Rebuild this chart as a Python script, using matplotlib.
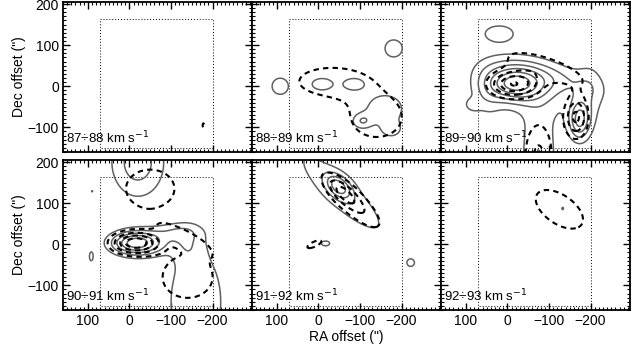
import numpy as np
import matplotlib.pyplot as plt
from matplotlib.patches import Rectangle
from matplotlib.ticker import MultipleLocator

plt.rcParams['font.family'] = ['Liberation Sans', 'DejaVu Sans']

# velocity channels
channels = ['87÷88', '88÷89', '89÷90', '90÷91', '91÷92', '92÷93']

# emission components per channel: (ra, dec, sig_ra, sig_dec, angle, amp)
solid_comps = [
    [],
    [(92, 0, 18, 18, 0, 0.45), (-181, 92, 19, 19, 0, 0.45), (-9, 5, 21, 12, 0, 0.48),
     (-85, 5, 21, 12, 0, 0.48), (-160, -55, 35, 28, 0, 0.48), (-105, -85, 18, 14, 0, 0.45),
     (-175, -105, 18, 14, 0, 0.4)],
    [(-18, 3, 45, 26, 0, 1.2), (-40, 15, 70, 40, 10, 0.3), (-173, -82, 18, 33, 0, 1.0),
     (-120, 20, 80, 25, 15, 0.3), (-75, -170, 30, 70, 0, 0.5), (-80, -30, 60, 50, 0, 0.25),
     (50, -20, 28, 45, 0, 0.3), (10, 40, 50, 25, 0, 0.25), (85, -45, 13, 11, 0, 0.3),
     (20, 128, 30, 17, 0, 0.45), (-200, -20, 25, 60, 0, 0.3)],
    [(-18, 3, 42, 20, 0, 1.45), (-160, -140, 55, 110, 0, 0.45), (-110, 30, 40, 15, 0, 0.35),
     (-140, 0, 25, 30, 0, 0.3), (-20, 200, 45, 60, 0, 0.65), (92, -30, 5, 12, 0, 0.35),
     (90, 129, 2, 2, 0, 0.3)],
    [(-49, 141, 24, 16, 43, 0.8), (-55, 125, 110, 30, 43, 0.45), (-17, 2, 12, 7, 0, 0.35),
     (-222, -45, 8, 8, 0, 0.4)],
    [(-133, 87, 4, 6, 0, 0.28)],
]
dashed_comps = [
    [(-178, -95, 3, 8, 0, 0.3)],
    [(-30, 12, 78, 33, 0, 0.4), (-140, -75, 62, 50, 0, 0.4)],
    [(-15, 5, 40, 22, 0, 1.0), (-90, 45, 90, 25, 18, 0.4), (-165, -75, 20, 35, 0, 0.8),
     (-75, -170, 25, 60, 0, 0.55)],
    [(-15, 3, 38, 18, 0, 1.2), (-130, 15, 50, 16, 27, 0.4), (-50, 135, 60, 48, 0, 0.4),
     (-140, -80, 62, 52, 0, 0.4)],
    [(-80, 105, 70, 22, 43, 0.55), (-60, 125, 30, 14, 43, 0.4), (10, 0, 30, 10, -25, 0.3)],
    [(-125, 85, 67, 36, 35, 0.4)],
]
levels = [0.25, 0.5, 0.75, 1.0, 1.25, 1.5]

box_ra = [70, -200]
box_dec = [-150, 163]

ra = np.linspace(-300, 165, 320)
dec = np.linspace(-165, 210, 280)
RA, DEC = np.meshgrid(ra, dec)


def field(comps):
    z = np.zeros_like(RA)
    for x0, y0, sx, sy, ang, amp in comps:
        t = np.deg2rad(ang)
        dx = RA - x0
        dy = DEC - y0
        u = dx * np.cos(t) + dy * np.sin(t)
        v = -dx * np.sin(t) + dy * np.cos(t)
        z += amp * np.exp(-0.5 * ((u / sx) ** 2 + (v / sy) ** 2))
    return z


fig = plt.figure(figsize=(6.32, 3.5), dpi=100)
w, h = 189 / 632, 150 / 350
lefts = [63 / 632, 252 / 632, 441 / 632]
bottoms = [1 - 152 / 350, 1 - 310 / 350]

for i in range(6):
    row, col = divmod(i, 3)
    ax = fig.add_axes([lefts[col], bottoms[row], w, h])
    ax.contour(RA, DEC, field(solid_comps[i]), levels=levels, colors='#606060',
               linewidths=1.1, linestyles='solid')
    ax.contour(RA, DEC, field(dashed_comps[i]), levels=levels, colors='black',
               linewidths=1.5, linestyles=[(0, (2.6, 2))])
    ax.add_patch(Rectangle((box_ra[1], box_dec[0]), box_ra[0] - box_ra[1], box_dec[1] - box_dec[0],
                           fill=False, ls=(0, (1, 2)), lw=0.7, color='black'))
    ax.set_xlim(160, -295)
    ax.set_ylim(-160, 205)
    ax.xaxis.set_major_locator(MultipleLocator(100))
    ax.yaxis.set_major_locator(MultipleLocator(100))
    ax.xaxis.set_minor_locator(MultipleLocator(10))
    ax.yaxis.set_minor_locator(MultipleLocator(10))
    ax.tick_params(which='both', direction='in', top=True, right=True, labelsize=10, pad=3)
    ax.tick_params(which='major', length=5, width=1)
    ax.tick_params(which='minor', length=2.5, width=0.8)
    for s in ax.spines.values():
        s.set_linewidth(1.3)
    if col != 0:
        ax.set_yticklabels([])
    else:
        ax.set_ylabel('Dec offset (")', fontsize=10, labelpad=1)
    if row == 0:
        ax.set_xticklabels([])
    if i == 4:
        ax.set_xlabel('RA offset (")', fontsize=10, labelpad=1)
    ax.text(0.015, 0.06, channels[i] + ' km s$^{-1}$', transform=ax.transAxes, fontsize=9.5)

fig.savefig('out.png', dpi=100)
